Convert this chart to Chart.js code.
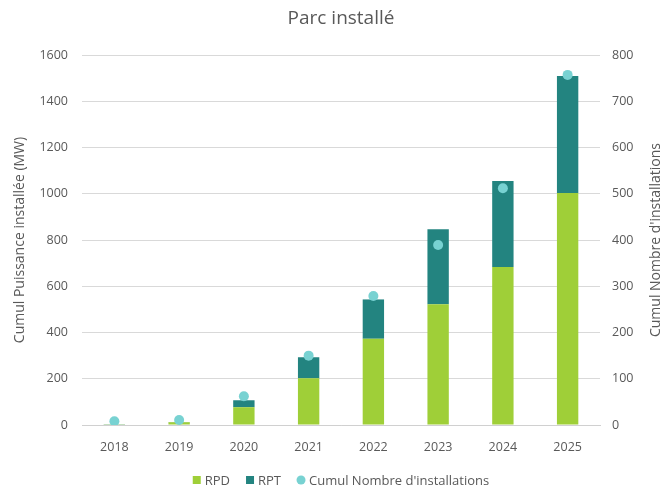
<!DOCTYPE html>
<html>
<head>
<meta charset="utf-8">
<script src="https://cdn.jsdelivr.net/npm/chart.js@4"></script>
<style>
html,body{margin:0;padding:0;background:#fff;}
#wrap{width:665px;height:490px;}
</style>
</head>
<body>
<div id="wrap"><canvas id="c" width="665" height="490"></canvas></div>
<script>
const categories = ['2018','2019','2020','2021','2022','2023','2024','2025'];
const rpd = [3, 12, 77, 202, 373, 522, 683, 1003];
const rpt = [1, 1, 30, 91, 170, 324, 372, 506];
const installations = [8, 11, 62, 150, 279, 389, 512, 757];

const FONT = "'Open Sans', sans-serif";
const GREY = '#595959';
const C_RPD = '#9FCF38', C_RPT = '#238480', C_DOT = '#78D2D2';

const textPlugin = {
  id: 'texts',
  afterDraw(chart) {
    const ctx = chart.ctx;
    const a = chart.chartArea;
    const midY = (a.top + a.bottom) / 2;
    ctx.save();
    ctx.fillStyle = GREY;
    ctx.textAlign = 'center';
    ctx.textBaseline = 'middle';
    ctx.font = "19px " + FONT;
    ctx.fillText('Parc installé', (a.left + a.right) / 2, 19);
    ctx.font = "14px " + FONT;
    ctx.save();
    ctx.translate(20, midY);
    ctx.rotate(-Math.PI / 2);
    ctx.fillText('Cumul Puissance installée (MW)', 0, 0);
    ctx.restore();
    ctx.save();
    ctx.translate(656, midY);
    ctx.rotate(-Math.PI / 2);
    ctx.fillText("Cumul Nombre d'installations", 0, 0);
    ctx.restore();

    // legend built from the datasets
    ctx.font = "13px " + FONT;
    ctx.textAlign = 'left';
    const ds = chart.data.datasets;
    const box = 8, gapBT = 4, gapItem = 16, ly = 480;
    const widths = ds.map(d => box + gapBT + ctx.measureText(d.label).width);
    const total = widths.reduce((s, w) => s + w, 0) + gapItem * (ds.length - 1);
    let x = (a.left + a.right) / 2 - total / 2;
    ds.forEach((d, i) => {
      const col = d.type === 'line' ? d.pointBackgroundColor : d.backgroundColor;
      ctx.fillStyle = col;
      if (d.type === 'line') {
        ctx.beginPath();
        ctx.arc(x + box / 2, ly, 4.5, 0, Math.PI * 2);
        ctx.fill();
      } else {
        ctx.fillRect(x, ly - box / 2, box, box);
      }
      ctx.fillStyle = GREY;
      ctx.fillText(d.label, x + box + gapBT, ly + 1);
      x += widths[i] + gapItem;
    });
    ctx.restore();
  }
};

new Chart(document.getElementById('c'), {
  type: 'bar',
  data: {
    labels: categories,
    datasets: [
      { label: 'RPD', data: rpd, backgroundColor: C_RPD, yAxisID: 'y', stack: 's', order: 1,
        categoryPercentage: 1, barPercentage: 0.33 },
      { label: 'RPT', data: rpt, backgroundColor: C_RPT, yAxisID: 'y', stack: 's', order: 1,
        categoryPercentage: 1, barPercentage: 0.33 },
      { type: 'line', label: "Cumul Nombre d'installations", data: installations, yAxisID: 'y1',
        showLine: false, pointRadius: 5, pointHoverRadius: 5, pointBackgroundColor: C_DOT,
        pointBorderColor: C_DOT, pointBorderWidth: 0, backgroundColor: C_DOT, borderColor: C_DOT, order: 0, pointStyle: 'circle' }
    ]
  },
  plugins: [textPlugin],
  options: {
    responsive: false,
    animation: false,
    devicePixelRatio: 1,
    layout: { padding: { left: 0, right: 0, top: 55, bottom: 28 } },
    plugins: {
      title: { display: false },
      legend: { display: false },
      tooltip: { enabled: false }
    },
    scales: {
      x: { stacked: true, grid: { display: false }, border: { display: true, color: '#d0d0d0' },
        ticks: { color: GREY, font: { family: FONT, size: 12.5 }, padding: 7 } },
      y: { stacked: true, min: 0, max: 1600, position: 'left',
        afterFit: (s) => { s.width = 82; },
        ticks: { stepSize: 200, color: GREY, font: { family: FONT, size: 12.5 }, padding: 14,
          callback: (v) => String(v) },
        grid: { color: '#d9d9d9', drawTicks: false }, border: { display: false } },
      y1: { min: 0, max: 800, position: 'right',
        afterFit: (s) => { s.width = 65; },
        ticks: { stepSize: 100, color: GREY, font: { family: FONT, size: 12.5 }, padding: 12,
          callback: (v) => String(v) },
        grid: { display: false, drawTicks: false }, border: { display: false } }
    }
  }
});
</script>
</body>
</html>
